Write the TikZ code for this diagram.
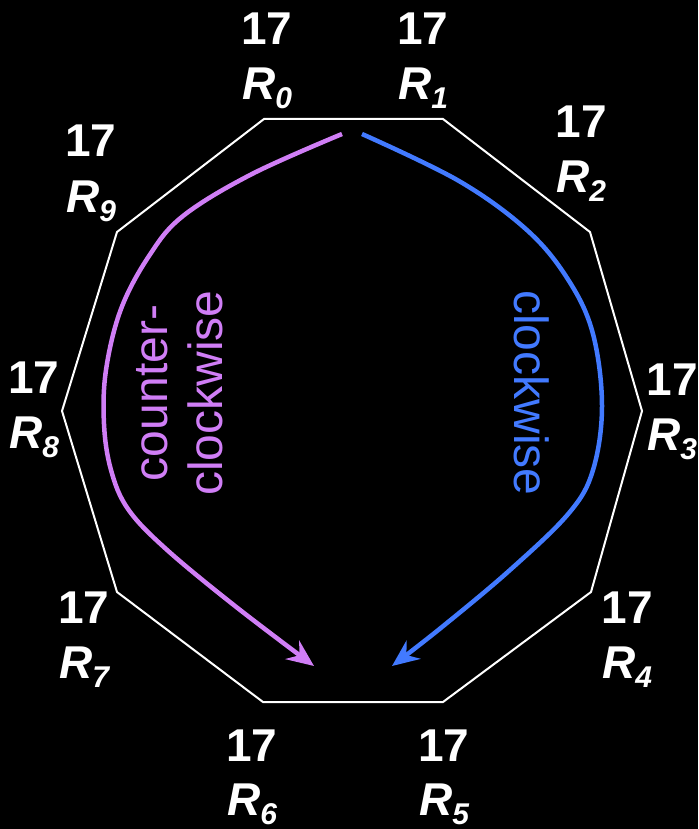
\documentclass[tikz,border=0pt]{standalone}
\usepackage{fontspec}
\setmainfont{Liberation Sans}
\usetikzlibrary{arrows.meta}
\definecolor{ccw}{RGB}{208,126,246}
\definecolor{cw}{RGB}{66,122,255}
\newcommand{\regl}[1]{{\bfseries\itshape R\raisebox{-9pt}{\fontsize{30}{30}\selectfont #1}}}
\tikzset{
  num/.style={text=white, font=\fontsize{46}{55}\selectfont\bfseries, anchor=base, inner sep=0pt},
  reg/.style={text=white, font=\fontsize{46}{55}\selectfont, anchor=base, inner sep=0pt},
  ring/.style={draw=white, line width=2pt, line join=miter},
  dirarrow/.style={line width=4.5pt, -{Stealth[length=27pt,width=23pt,inset=9pt]}},
  dirtext/.style={font=\fontsize{48}{55}\selectfont, inner sep=0pt, align=center}
}
\begin{document}
\begin{tikzpicture}[x=1pt,y=-1pt]
\path[use as bounding box, fill=black] (0,0) rectangle (698,829);
% decagon vertices
\coordinate (v0) at (264,119);
\coordinate (v1) at (443,119);
\coordinate (v2) at (590,232);
\coordinate (v3) at (642,411);
\coordinate (v4) at (591,592);
\coordinate (v5) at (443,702);
\coordinate (v6) at (263,702);
\coordinate (v7) at (117,592);
\coordinate (v8) at (62,411);
\coordinate (v9) at (117,232);
\draw[ring] (v0) -- (v1) -- (v2) -- (v3) -- (v4) -- (v5) -- (v6) -- (v7) -- (v8) -- (v9) -- cycle;
% labels
\node[num] (n0) at (267,45) {17};  \node[reg] (r0) at (267,100) {\regl{0}};
\node[num] (n1) at (423,45) {17};  \node[reg] (r1) at (423,100) {\regl{1}};
\node[num] (n2) at (581,138) {17}; \node[reg] (r2) at (581,193) {\regl{2}};
\node[num] (n3) at (672,395) {17}; \node[reg] (r3) at (672,450) {\regl{3}};
\node[num] (n4) at (627,623) {17}; \node[reg] (r4) at (627,678) {\regl{4}};
\node[num] (n5) at (444,761) {17}; \node[reg] (r5) at (444,815) {\regl{5}};
\node[num] (n6) at (252,761) {17}; \node[reg] (r6) at (252,815) {\regl{6}};
\node[num] (n7) at (84,623) {17};  \node[reg] (r7) at (84,678) {\regl{7}};
\node[num] (n8) at (34,393) {17};  \node[reg] (r8) at (34,448) {\regl{8}};
\node[num] (n9) at (91,157) {17};  \node[reg] (r9) at (91,212) {\regl{9}};
% arrows
\coordinate (ps) at (342,134);
\coordinate (pe) at (314,666);
\coordinate (bs) at (362,134);
\coordinate (be) at (392,666);
\draw[dirarrow, draw=ccw] plot[smooth, tension=0.6] coordinates
  {(ps) (252,174) (183,216) (149,256) (121,309) (106,370) (104,424) (111,470) (128,509) (166,549) (235,606) (pe)};
\draw[dirarrow, draw=cw] plot[smooth, tension=0.6] coordinates
  {(bs) (459,181) (528,231) (569,281) (593,334) (602,406) (593,470) (569,513) (510,570) (442,627) (be)};
% direction texts
\node[dirtext, text=ccw, rotate=90] (tccw) at (180,393) {counter-\\clockwise};
\node[dirtext, text=cw, rotate=-90, anchor=base] (tcw) at (514,393) {clockwise};
\end{tikzpicture}
\end{document}
